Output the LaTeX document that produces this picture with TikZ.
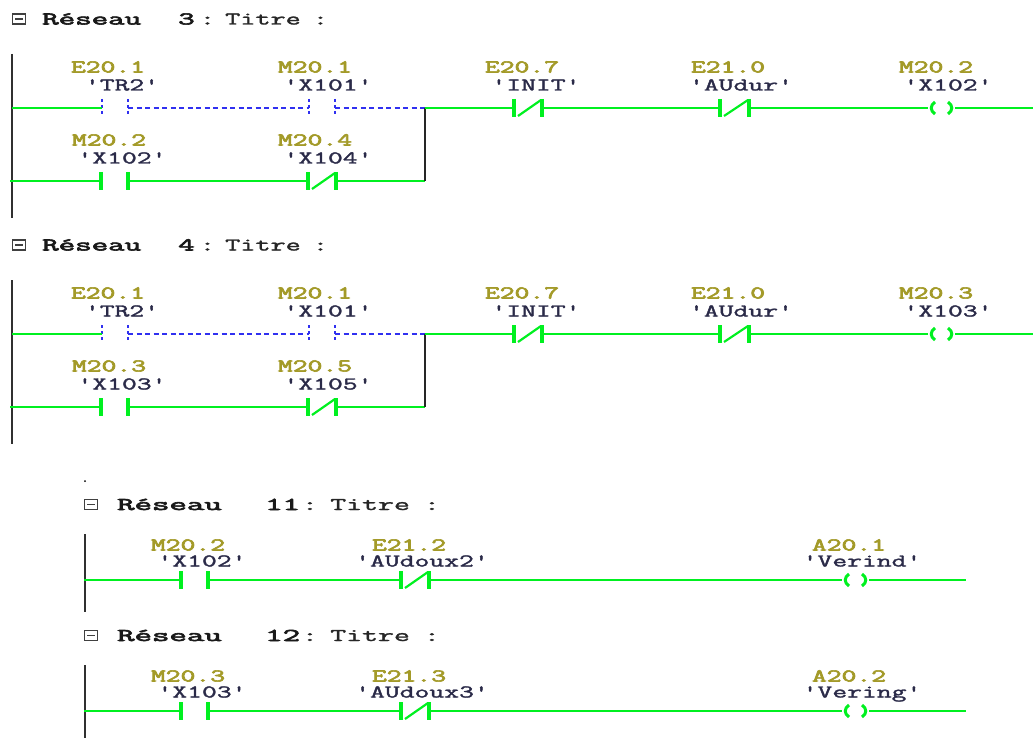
\documentclass[tikz,border=0pt]{standalone}
\usepackage{fontspec}
\setmainfont{Latin Modern Mono}
\newfontfamily\boldish[FakeBold=3]{Latin Modern Mono}
\newfontfamily\semibold[FakeBold=1.5]{Latin Modern Mono}
\definecolor{lad}{HTML}{00F020}
\definecolor{off}{HTML}{3030F0}
\definecolor{addr}{HTML}{A39A28}
\definecolor{sym}{HTML}{2A2A48}
\definecolor{rail}{HTML}{303030}
\tikzset{
  x=1pt,y=-1pt,
  wire/.style={draw=lad,line width=2.2pt},
  offwire/.style={draw=off,line width=1.3pt,dash pattern=on 5pt off 3.5pt},
  railline/.style={draw=rail,line width=2pt},
  joinline/.style={draw=black!85,line width=1.6pt},
  bar/.style={draw=lad,line width=3.4pt},
  offbar/.style={draw=off,line width=2pt,dash pattern=on 3pt off 3pt},
  slashline/.style={draw=lad,line width=2.2pt},
  coilarc/.style={draw=lad,line width=3pt},
  addrtext/.style={inner sep=0pt,anchor=base,yshift=-5.5pt,text=addr,font=\fontsize{18}{18}\boldish},
  symtext/.style={inner sep=0pt,anchor=base,yshift=-5.5pt,text=sym,font=\fontsize{18}{18}\semibold},
  titletext/.style={inner sep=0pt,anchor=base west,yshift=-5.5pt,text=black!85,font=\fontsize{18}{18}\semibold},
  titlebold/.style={inner sep=0pt,anchor=base west,yshift=-5.5pt,text=black!90,font=\fontsize{18}{18}\boldish},
  iconbox/.style={draw=black!75,line width=1.2pt,minimum width=13pt,minimum height=10pt,inner sep=0pt},
}
% contact: name, x left, x right, y
\newcommand{\nocontact}[4]{%
  \coordinate (#1L) at (#2,#4); \coordinate (#1R) at (#3,#4);
  \draw[bar] (#2,#4-9) -- (#2,#4+9); \draw[bar] (#3,#4-9) -- (#3,#4+9);}
\newcommand{\offcontact}[4]{%
  \coordinate (#1L) at (#2,#4); \coordinate (#1R) at (#3,#4);
  \draw[offbar] (#2,#4-9) -- (#2,#4+9); \draw[offbar] (#3,#4-9) -- (#3,#4+9);}
\newcommand{\nccontact}[4]{%
  \nocontact{#1}{#2}{#3}{#4}%
  \draw[slashline] (#2+4,#4+8) -- (#3-1,#4-8);}
\newcommand{\coil}[4]{%
  \coordinate (#1L) at (#2,#4); \coordinate (#1R) at (#3,#4);
  \draw[coilarc] (#2+7,#4-6) .. controls (#2+2,#4-3) and (#2+2,#4+3) .. (#2+7,#4+6);
  \draw[coilarc] (#3-7,#4-6) .. controls (#3-2,#4-3) and (#3-2,#4+3) .. (#3-7,#4+6);}
\newcommand{\lbl}[5]{\node[#1] (#2) at (#3,#4) {\scalebox{1.6}[1]{#5}};}
\newcommand{\ttl}[8]{% name, icon x, text x offsets, y
  \node[iconbox] (#1i) at (#2,#4) {};
  \draw[draw=black!75,line width=1.2pt] (#2-4,#4) -- (#2+4,#4);
  \node[titlebold] (#1a) at (#3,#4) {\scalebox{\rs}[1]{Réseau}};
  \node[titlebold] (#1b) at (#5,#4) {\scalebox{\rs}[1]{#8}};
  \node[titletext] (#1c) at (#6,#4) {\scalebox{\rs}[1]{:}};
  \node[titletext] (#1d) at (#7,#4) {\scalebox{\rt}[1]{Titre}};
}
\begin{document}
\begin{tikzpicture}
\useasboundingbox (0,0) rectangle (1033,738);
\fill[white] (0,0) rectangle (1033,738);

% ---------- two big networks
\foreach \n/\dy/\nw/\adA/\symA/\adB/\symB/\adC/\symC in
  {3/0/3/M20.2/X102/M20.4/X104/M20.2/X102,
   4/226/4/M20.3/X103/M20.5/X105/M20.3/X103}{
  \def\rs{1.78}\def\rt{1.63}
  \ttl{t\n}{19}{42}{19+\dy}{178}{199}{225}{\nw}
  \node[titletext] (t\n e) at (312,19+\dy) {\scalebox{\rs}[1]{:}};
  \coordinate (r\n top) at (12,54+\dy);
  \coordinate (r\n bot) at (12,218+\dy);
  \draw[railline] (r\n top) -- (r\n bot);
  \coordinate (r\n a) at (12,108+\dy);
  \coordinate (r\n b) at (10,181+\dy);
  \coordinate (j\n a) at (425,108+\dy);
  \coordinate (j\n b) at (425,181+\dy);
  \offcontact{c\n a}{102}{128}{108+\dy}
  \offcontact{c\n b}{309}{335}{108+\dy}
  \nocontact{c\n c}{101}{128}{181+\dy}
  \nccontact{c\n d}{308}{336}{181+\dy}
  \nccontact{c\n e}{514}{542}{108+\dy}
  \nccontact{c\n f}{720}{749}{108+\dy}
  \coil{c\n g}{928}{955}{108+\dy}
  \coordinate (e\n) at (1033,108+\dy);
  \draw[wire] (r\n a) -- (c\n aL);
  \draw[offwire] (c\n aR) -- (c\n bL);
  \draw[offwire] (c\n bR) -- (j\n a);
  \draw[wire] (r\n b) -- (c\n cL);
  \draw[wire] (c\n cR) -- (c\n dL);
  \draw[wire] (c\n dR) -- (j\n b);
  \draw[joinline] (j\n a) -- (j\n b);
  \draw[wire] (j\n a) -- (c\n eL);
  \draw[wire] (c\n eR) -- (c\n fL);
  \draw[wire] (c\n fR) -- (c\n gL);
  \draw[wire] (c\n gR) -- (e\n);
  \lbl{addrtext}{a\n a}{108}{67+\dy}{E20.1}
  \lbl{symtext}{s\n a}{122}{85+\dy}{'TR2'}
  \lbl{addrtext}{a\n b}{315}{67+\dy}{M20.1}
  \lbl{symtext}{s\n b}{328}{85+\dy}{'X101'}
  \lbl{addrtext}{a\n c}{109}{140+\dy}{\adA}
  \lbl{symtext}{s\n c}{122}{158+\dy}{'\symA'}
  \lbl{addrtext}{a\n d}{315}{140+\dy}{\adB}
  \lbl{symtext}{s\n d}{328}{158+\dy}{'\symB'}
  \lbl{addrtext}{a\n e}{522}{67+\dy}{E20.7}
  \lbl{symtext}{s\n e}{536}{85+\dy}{'INIT'}
  \lbl{addrtext}{a\n f}{728}{67+\dy}{E21.0}
  \lbl{symtext}{s\n f}{741}{85+\dy}{'AUdur'}
  \lbl{addrtext}{a\n g}{936}{67+\dy}{\adC}
  \lbl{symtext}{s\n g}{948}{85+\dy}{'\symC'}
}

% ---------- small dot
\node[circle,fill=black,inner sep=0pt,minimum size=2pt] (dot) at (85,481) {};

% ---------- two small networks
\foreach \n/\dy/\rb/\ad/\sy/\adB/\syB/\adC/\syC in
  {11/0/612/M20.2/X102/E21.2/AUdoux2/A20.1/Verind,
   12/131/738/M20.3/X103/E21.3/AUdoux3/A20.2/Vering}{
  \def\rs{1.88}\def\rt{1.72}
  \ttl{t\n}{91}{117}{504.5+\dy}{265}{301}{330}{\n}
  \node[titletext] (t\n e) at (423,504.5+\dy) {\scalebox{\rs}[1]{:}};
  \coordinate (r\n top) at (85,534+\dy);
  \coordinate (r\n bot) at (85,\rb);
  \draw[railline] (r\n top) -- (r\n bot);
  \coordinate (r\n a) at (84,580+\dy);
  \nocontact{c\n a}{181}{208}{580+\dy}
  \nccontact{c\n b}{401}{429}{580+\dy}
  \coil{c\n c}{842}{869}{580+\dy}
  \coordinate (e\n) at (966,580+\dy);
  \draw[wire] (r\n a) -- (c\n aL);
  \draw[wire] (c\n aR) -- (c\n bL);
  \draw[wire] (c\n bR) -- (c\n cL);
  \draw[wire] (c\n cR) -- (e\n);
  \lbl{addrtext}{a\n a}{188}{545+\dy}{\ad}
  \lbl{symtext}{s\n a}{202}{561+\dy}{'\sy'}
  \lbl{addrtext}{a\n b}{409}{545+\dy}{\adB}
  \lbl{symtext}{s\n b}{422}{561+\dy}{'\syB'}
  \lbl{addrtext}{a\n c}{849}{545+\dy}{\adC}
  \lbl{symtext}{s\n c}{862}{561+\dy}{'\syC'}
}
\end{tikzpicture}
\end{document}
